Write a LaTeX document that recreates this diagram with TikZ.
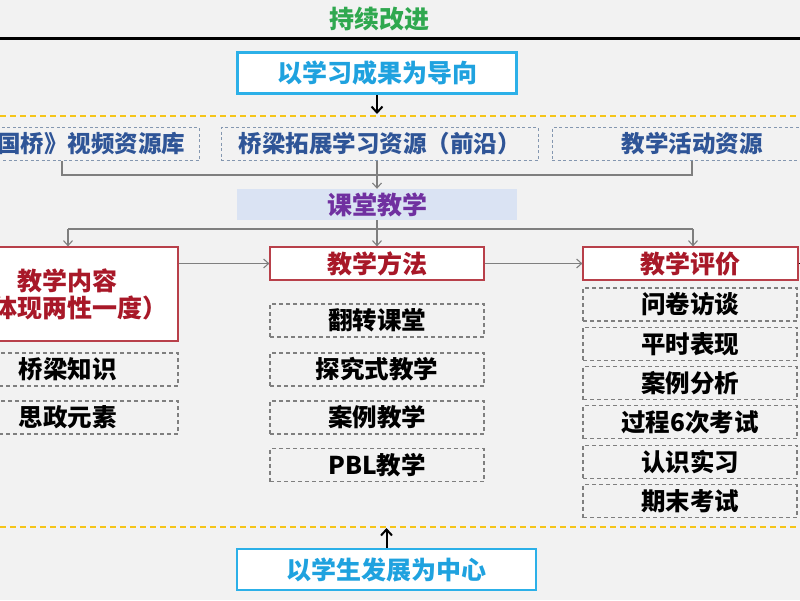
\documentclass[tikz,border=0pt]{standalone}
\usepackage{fontspec}
\setmainfont{Noto Sans CJK SC}
\usetikzlibrary{arrows.meta}
\definecolor{bgc}{HTML}{F2F2F2}
\definecolor{greentxt}{HTML}{2FA84F}
\definecolor{bluebd}{HTML}{2CB0E8}
\definecolor{bluetxt}{HTML}{1FA2DF}
\definecolor{resbd}{HTML}{8497B0}
\definecolor{restxt}{HTML}{2F5597}
\definecolor{classfill}{HTML}{DAE3F3}
\definecolor{purpletxt}{HTML}{7030A0}
\definecolor{redbd}{HTML}{B8404A}
\definecolor{redtxt}{HTML}{A81828}
\definecolor{graybd}{HTML}{7F7F7F}
\definecolor{yellowln}{HTML}{F5C518}
\definecolor{conn}{HTML}{7F7F7F}
\tikzset{
  goalbox/.style={draw=bluebd, line width=2.6pt, fill=white, text=bluetxt, font=\fontsize{25}{29}\selectfont\bfseries, minimum width=#1, minimum height=41pt, inner sep=0pt},
  resbox/.style={draw=resbd, dashed, dash pattern=on 3pt off 2.5pt, line width=1pt, text=restxt, font=\fontsize{23.5}{27}\selectfont\bfseries, minimum width=#1, minimum height=33pt, inner sep=0pt},
  classbox/.style={fill=classfill, text=purpletxt, font=\fontsize{25}{29}\selectfont\bfseries, minimum width=280pt, minimum height=31pt, inner sep=0pt},
  redbox/.style={draw=redbd, line width=1.2pt, fill=white, text=redtxt, font=\fontsize{25}{27}\selectfont\bfseries, inner sep=0pt, align=center},
  itembox/.style={draw=graybd, dash pattern=on 4pt off 3pt, line width=1.1pt, text=black, font=\fontsize{24.5}{27}\selectfont\bfseries, minimum width=#1, minimum height=33pt, inner sep=0pt},
  conline/.style={draw=conn, line width=1.1pt},
  conarrow/.style={draw=conn, line width=1.1pt, -{Straight Barb[length=5pt,width=9pt]}},
  blackarrow/.style={draw=black, line width=2pt, -{Straight Barb[length=6pt,width=11pt]}},
  yellowdash/.style={draw=yellowln, line width=2.4pt, dash pattern=on 6pt off 4pt},
}
\begin{document}
\begin{tikzpicture}[x=1pt,y=-1pt]
\fill[bgc] (0,0) rectangle (800,600);
\useasboundingbox (0,0) rectangle (800,600);

% top title and rule
\node[text=greentxt, font=\fontsize{25}{29}\selectfont\bfseries] (improve) at (379,19) {持续改进};
\coordinate (ruleL) at (0,38);
\coordinate (ruleR) at (800,38);
\draw[black, line width=3pt] (ruleL) -- (ruleR);

% goal box
\node[goalbox=279pt] (goal) at (377,73) {以学习成果为导向};

% yellow dashed lines
\coordinate (yl1) at (0,116);
\coordinate (yr1) at (800,116);
\draw[yellowdash] (yl1) -- (yr1);
\coordinate (yl2) at (0,527);
\coordinate (yr2) at (800,527);
\draw[yellowdash] (yl2) -- (yr2);

\coordinate (goalarr) at (377,114);
\draw[blackarrow] (goal.south) -- (goalarr);

% resources
\node[resbox=262pt] (res1) at (68,144) {《中国桥》视频资源库};
\node[resbox=317pt] (res2) at (379.5,144) {桥梁拓展学习资源（前沿）};
\node[resbox=280pt] (res3) at (692,144) {教学活动资源};

\coordinate (brL) at (62,175);
\coordinate (brR) at (692,175);
\draw[conline] (res1.south -| brL) -- (brL) -- (brR) -- (res3.south -| brR);

% classroom
\node[classbox] (class) at (377,204.5) {课堂教学};
\draw[conarrow] (res2.south -| class.north) -- (class.north);

% three main boxes
\node[redbox, minimum width=221pt, minimum height=94pt] (content) at (67.5,294) {教学内容\\（体现两性一度）};
\node[redbox, minimum width=214pt, minimum height=33pt] (method) at (377,263.5) {教学方法};
\node[redbox, minimum width=215pt, minimum height=33pt] (eval) at (690.5,263.5) {教学评价};

\coordinate (splitL) at (68,229);
\coordinate (splitR) at (693,229);
\coordinate (splitM) at (377,229);
\draw[conline] (class.south) -- (splitM);
\draw[conline] (splitL) -- (splitR);
\draw[conarrow] (splitL) -- (content.north -| splitL);
\draw[conarrow] (splitM) -- (method.north);
\draw[conarrow] (splitR) -- (eval.north -| splitR);

\draw[conarrow] (content.north east |- method.west) -- (method.west);
\draw[conarrow] (method.east) -- (eval.west);
\coordinate (evalout) at (812,263.5);
\draw[conline, draw=black] (eval.east) -- (evalout);

% content items
\node[itembox=221pt] (c1) at (67.5,369.5) {桥梁知识};
\node[itembox=221pt] (c2) at (67.5,417.5) {思政元素};

% method items
\node[itembox=214pt] (m1) at (377,320.5) {翻转课堂};
\node[itembox=214pt] (m2) at (377,369.5) {探究式教学};
\node[itembox=214pt] (m3) at (377,417.5) {案例教学};
\node[itembox=214pt] (m4) at (377,465) {PBL教学};

% evaluation items
\node[itembox=214pt] (e1) at (690,304.5) {问卷访谈};
\node[itembox=214pt] (e2) at (690,343.8) {平时表现};
\node[itembox=214pt] (e3) at (690,383.1) {案例分析};
\node[itembox=214pt] (e4) at (690,422.4) {过程6次考试};
\node[itembox=214pt] (e5) at (690,461.7) {认识实习};
\node[itembox=214pt] (e6) at (690,501) {期末考试};

% bottom
\node[goalbox=299pt] (student) at (386.5,569.5) {以学生发展为中心};
\coordinate (stuarr) at (386.5,528);
\draw[blackarrow] (student.north) -- (stuarr);
\end{tikzpicture}
\end{document}
